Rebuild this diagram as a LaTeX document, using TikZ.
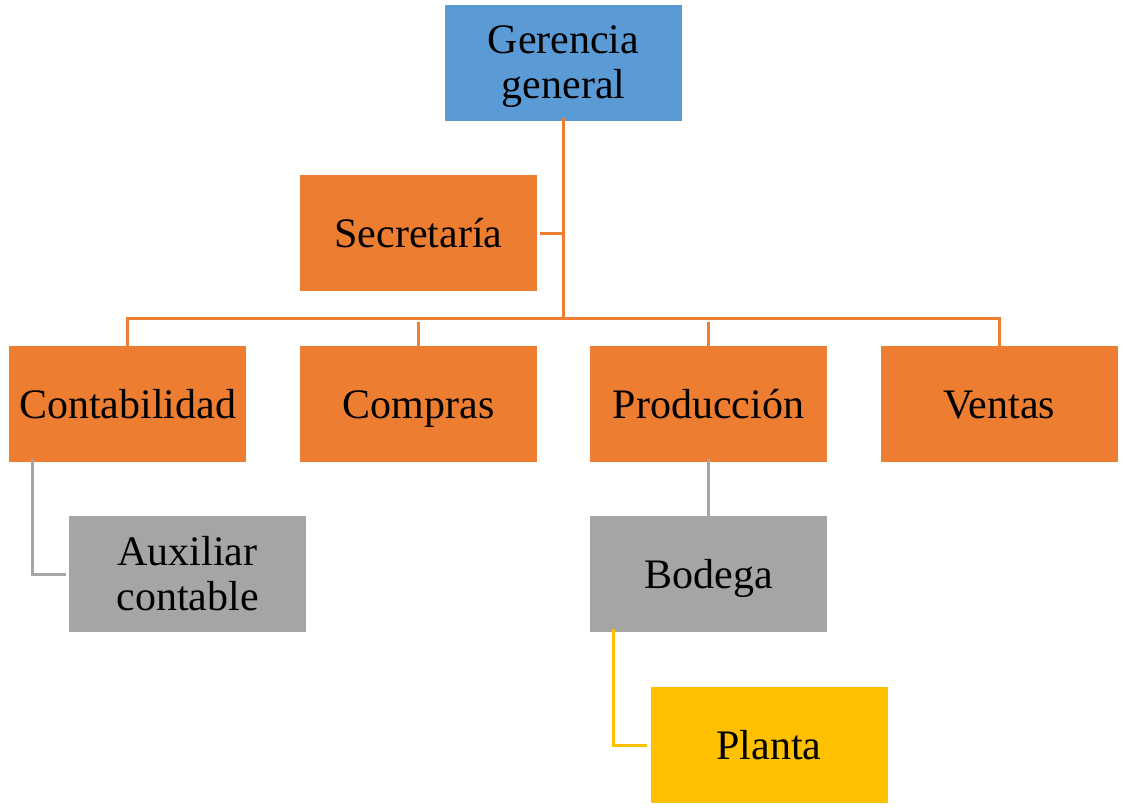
\documentclass[tikz,border=0pt]{standalone}
\usepackage{fontspec}
\setmainfont{Liberation Serif}
\definecolor{cblue}{HTML}{5B9BD5}
\definecolor{corange}{HTML}{ED7D31}
\definecolor{cgray}{HTML}{A5A5A5}
\definecolor{cyellow}{HTML}{FFC000}
\begin{document}
\begin{tikzpicture}[x=1pt,y=-1pt,
  box/.style={minimum width=237pt,minimum height=116pt,inner sep=0pt,align=center,
    font=\fontsize{42}{45}\selectfont,text=black},
  single/.style={text height=29pt,text depth=0pt},
  bluebox/.style={box,fill=cblue},
  orangebox/.style={box,fill=corange},
  graybox/.style={box,fill=cgray},
  yellowbox/.style={box,fill=cyellow},
  oline/.style={draw=corange,line width=3pt},
  gline/.style={draw=cgray,line width=3pt},
  yline/.style={draw=cyellow,line width=3pt}]
\useasboundingbox (0,0) rectangle (1123,809);
\node[bluebox] (ger) at (563.5,63) {};
\node[box] (gertext) at (563.5,67) {Gerencia\\general};
\node[orangebox,single] (sec) at (418.5,233) {Secretaría};
\node[orangebox,single] (con) at (127.5,404) {Contabilidad};
\node[orangebox,single] (com) at (418.5,404) {Compras};
\node[orangebox,single] (pro) at (708.5,404) {Producción};
\node[orangebox,single] (ven) at (999,404) {Ventas};
\node[graybox] (aux) at (187.5,574) {Auxiliar\\contable};
\node[graybox,single] (bod) at (708.5,574) {Bodega};
\node[yellowbox,single] (pla) at (769,745) {Planta};
\coordinate (bus) at (563.5,318.5);
\coordinate (secj) at (563.5,233);
\draw[oline] ([yshift=3pt]ger.south) -- (bus);
\draw[oline] ([xshift=3pt]sec.east) -- (secj);
\draw[oline] ([yshift=-3pt]con.north) |- (bus) -| ([yshift=-3pt]ven.north);
\draw[oline] ([yshift=-3pt]com.north) -- ([yshift=-3pt]com.north |- bus);
\draw[oline] ([yshift=-3pt]pro.north) -- ([yshift=-3pt]pro.north |- bus);
\draw[gline] ([xshift=-95pt,yshift=3pt]con.south) |- ([xshift=-3pt]aux.west);
\draw[gline] ([yshift=3pt]pro.south) -- ([yshift=-3pt]bod.north);
\draw[yline] ([xshift=-95pt,yshift=3pt]bod.south) |- ([xshift=-3pt]pla.west);
\end{tikzpicture}
\end{document}
